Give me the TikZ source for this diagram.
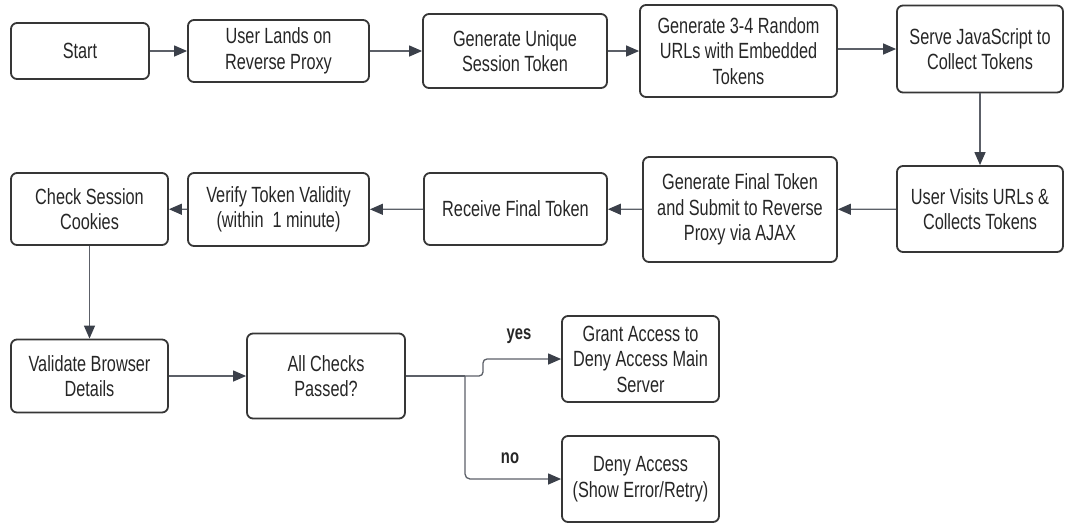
\documentclass[tikz,border=0pt]{standalone}
\usepackage{fontspec}
\setmainfont{Liberation Sans}[FakeStretch=0.74]
\usetikzlibrary{arrows.meta}

\definecolor{edgegray}{HTML}{363636}
\definecolor{linegray}{HTML}{5C6068}
\definecolor{tipgray}{HTML}{3B404A}

\tikzset{
  box/.style={draw=edgegray, line width=1.8pt, rounded corners=6pt, align=center,
    inner sep=0pt, text=black!85, font=\fontsize{22}{25.5}\selectfont},
  flow/.style={draw=linegray, line width=1.3pt, -{Triangle[length=13pt,width=11pt,color=tipgray]}},
  answer/.style={font=\bfseries\fontsize{20}{22}\selectfont, text=black!85}
}

\begin{document}
\begin{tikzpicture}[x=1pt, y=-1pt]
\useasboundingbox (0,0) rectangle (1065,523);

% first row
\node[box, minimum width=138pt, minimum height=56pt] (start) at (80,51) {Start};
\node[box, minimum width=181pt, minimum height=62pt] (lands) at (278.5,51) {User Lands on\\Reverse Proxy};
\node[box, minimum width=184pt, minimum height=74pt] (unique) at (515,51) {Generate Unique\\Session Token};
\node[box, minimum width=197pt, minimum height=92pt] (random) at (738.5,51) {Generate 3-4 Random\\URLs with Embedded\\Tokens};
\node[box, minimum width=166pt, minimum height=87pt] (serve) at (980,49) {Serve JavaScript to\\Collect Tokens};

% second row
\node[box, minimum width=166pt, minimum height=86pt] (visits) at (980,209) {User Visits URLs \&\\Collects Tokens};
\node[box, minimum width=194pt, minimum height=105pt] (final) at (740,209.5) {Generate Final Token\\and Submit to Reverse\\Proxy via AJAX};
\node[box, minimum width=183pt, minimum height=72pt] (receive) at (515.5,209) {Receive Final Token};
\node[box, minimum width=181pt, minimum height=73pt] (verify) at (278.5,209.5) {Verify Token Validity\\(within\ \ 1 minute)};
\node[box, minimum width=157pt, minimum height=72pt] (cookies) at (89.5,209) {Check Session\\Cookies};

% third row
\node[box, minimum width=157pt, minimum height=73pt] (browser) at (89.5,376) {Validate Browser\\Details};
\node[box, minimum width=158pt, minimum height=85pt] (checks) at (326,376) {All Checks\\Passed?};
\node[box, minimum width=157pt, minimum height=86pt] (grant) at (640.5,359) {Grant Access to\\Deny Access Main\\Server};
\node[box, minimum width=157pt, minimum height=86pt] (deny) at (640.5,479) {Deny Access\\(Show Error/Retry)};

\draw[flow] (start) -- (lands);
\draw[flow] (lands) -- (unique);
\draw[flow] (unique) -- (random);
\draw[flow] (random.east |- serve) -- (serve);
\draw[flow] (serve.south) -- (visits.north);
\draw[flow] (visits) -- (final);
\draw[flow] (final) -- (receive);
\draw[flow] (receive) -- (verify);
\draw[flow] (verify) -- (cookies);
\draw[flow] (cookies) -- (browser);
\draw[flow] (browser) -- (checks);

% decision
\coordinate (fork) at (465,376);
\draw[draw=linegray, line width=1.3pt] (checks.east) -- (fork);
\draw[flow, rounded corners=4pt] (fork) -- ++(18,0) |- (grant.west);
\draw[flow, rounded corners=5pt] (fork) |- (deny.west);
\node[answer] (yeslabel) at (519,336) {yes};
\node[answer] (nolabel) at (510,458) {no};
\end{tikzpicture}
\end{document}
